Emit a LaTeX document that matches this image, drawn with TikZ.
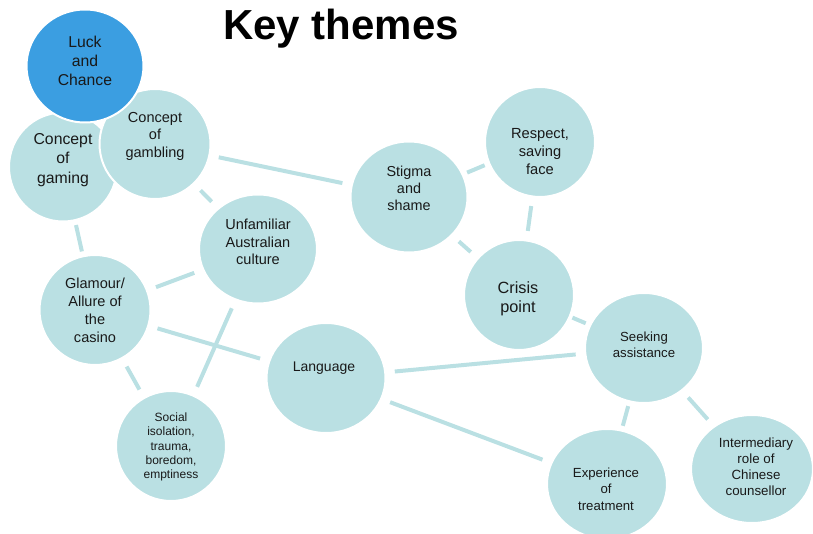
\documentclass[tikz,border=0pt]{standalone}
\usepackage{fontspec}
\setmainfont{Liberation Sans}
\usetikzlibrary{shapes.geometric}

\definecolor{themefill}{RGB}{186,224,227}
\definecolor{luckfill}{RGB}{59,158,225}
\def\px{0.75pt}
\def\fs#1#2{\fontsize{#1}{#2}\selectfont}

\begin{document}
\begin{tikzpicture}[x=\px, y=-\px,
    theme/.style={ellipse, fill=themefill, draw=white, line width=1.5pt, inner sep=0pt},
    txt/.style={align=center, text=black!90, inner sep=0pt},
    link/.style={draw=themefill, line width=3pt, shorten <=6.5pt, shorten >=6.5pt},
    near/.style={shorten <=3pt, shorten >=3pt}]
      \useasboundingbox (0,0) rectangle (813,534);
      % title
      \node[anchor=base, font=\fs{31.5}{36}\bfseries] (title) at (341, 40) {Key themes};
      % circles
      \node[theme, minimum width=108*\px, minimum height=109*\px] (gaming) at (63, 167) {};
      \node[theme, minimum width=111*\px, minimum height=110*\px] (gambling) at (155, 144) {};
      \node[theme, fill=luckfill, minimum width=117*\px, minimum height=113*\px] (luck) at (85, 66) {};
      \node[theme, minimum width=118*\px, minimum height=109*\px] (unfamiliar) at (258, 249) {};
      \node[theme, minimum width=111*\px, minimum height=110*\px] (glamour) at (95, 310) {};
      \node[theme, minimum width=110*\px, minimum height=110*\px] (social) at (171, 446) {};
      \node[theme, minimum width=119*\px, minimum height=110*\px] (language) at (326, 378) {};
      \node[theme, minimum width=117*\px, minimum height=111*\px] (stigma) at (409, 197) {};
      \node[theme, minimum width=110*\px, minimum height=110*\px] (respect) at (540, 142) {};
      \node[theme, minimum width=110*\px, minimum height=110*\px] (crisis) at (519, 295) {};
      \node[theme, minimum width=118*\px, minimum height=110*\px] (seeking) at (644, 348) {};
      \node[theme, minimum width=120*\px, minimum height=110*\px] (experience) at (607, 484) {};
      \node[theme, minimum width=122*\px, minimum height=108*\px] (intermediary) at (752, 469) {};
      % labels
      \node[txt, font=\fs{11.85}{14.6}] (gaming-t) at (63, 160) {Concept\\of\\gaming};
      \node[txt, font=\fs{10.9}{13.1}] (gambling-t) at (155, 136) {Concept\\of\\gambling};
      \node[txt, font=\fs{11.8}{14.25}] (luck-t) at (85, 61) {Luck\\and\\Chance};
      \node[txt, font=\fs{10.9}{13.1}] (unfamiliar-t) at (258, 242) {Unfamiliar\\Australian\\culture};
      \node[txt, font=\fs{10.9}{13.5}] (glamour-t) at (95, 310) {Glamour/\\Allure of\\the\\casino};
      \node[txt, font=\fs{9}{10.7}] (social-t) at (171, 447) {Social\\isolation,\\trauma,\\boredom,\\emptiness};
      \node[txt, font=\fs{10.5}{12.6}] (language-t) at (324, 368) {Language};
      \node[txt, font=\fs{10.8}{12.75}] (stigma-t) at (409, 188) {Stigma\\and\\shame};
      \node[txt, font=\fs{11}{13.5}] (respect-t) at (540, 152) {Respect,\\saving\\face};
      \node[txt, font=\fs{12.2}{13.9}] (crisis-t) at (518, 299) {Crisis\\point};
      \node[txt, font=\fs{9.9}{11.8}] (seeking-t) at (644, 345) {Seeking\\assistance};
      \node[txt, font=\fs{9.9}{12.4}] (experience-t) at (606, 489) {Experience\\of\\treatment};
      \node[txt, font=\fs{10}{12}] (intermediary-t) at (756, 467) {Intermediary\\role of\\Chinese\\counsellor};
      % links
      \draw[link, near] (gaming) -- (glamour);
      \draw[link] (gambling) -- (unfamiliar);
      \draw[link] (gambling) -- (stigma);
      \draw[link, near] (stigma) -- (respect);
      \draw[link] (stigma) -- (crisis);
      \draw[link] (respect) -- (crisis);
      \draw[link, shorten <=1.5pt, shorten >=3pt] (crisis) -- (seeking);
      \draw[link] (language) -- (seeking);
      \draw[link] (language) -- (experience);
      \draw[link, near] (seeking) -- (experience);
      \draw[link] (seeking) -- (intermediary);
      \draw[link] (glamour) -- (unfamiliar);
      \draw[link] (glamour) -- (language);
      \draw[link] (glamour) -- (social);
      \draw[link] (unfamiliar) -- (social);
    \end{tikzpicture}
\end{document}
